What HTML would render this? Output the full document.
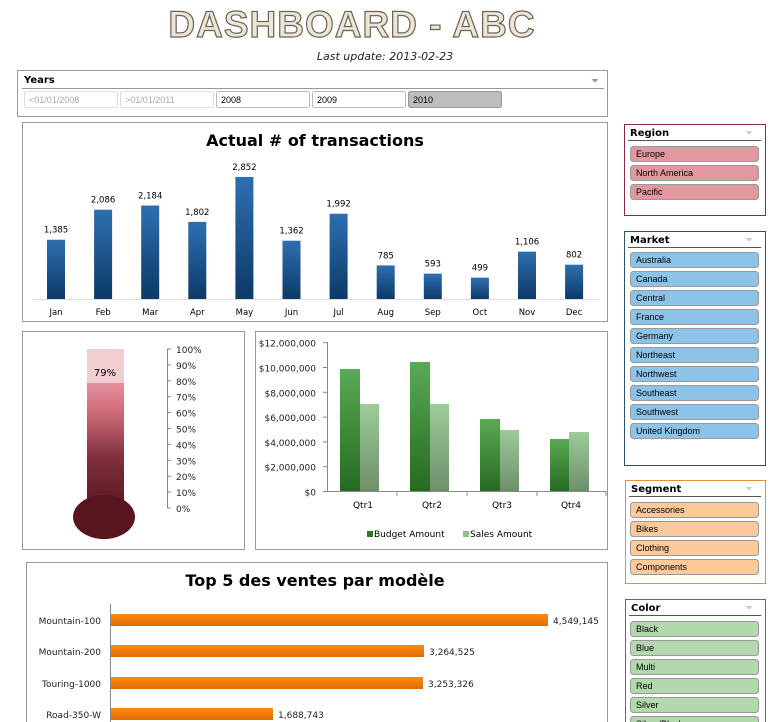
<!DOCTYPE html>
<html><head><meta charset="utf-8"><style>
html,body{margin:0;padding:0;background:#fff;width:778px;height:722px;overflow:hidden}
svg{display:block;font-family:"DejaVu Sans","Liberation Sans",sans-serif}
</style></head><body>
<svg width="778" height="722" viewBox="0 0 778 722" xmlns="http://www.w3.org/2000/svg">
<defs>
<linearGradient id="gb" x1="0" y1="0" x2="0" y2="1"><stop offset="0" stop-color="#2e6fb0"/><stop offset="1" stop-color="#0c3a68"/></linearGradient>
<linearGradient id="gg" x1="0" y1="0" x2="0" y2="1"><stop offset="0" stop-color="#5aaa55"/><stop offset="1" stop-color="#256a20"/></linearGradient>
<linearGradient id="gl" x1="0" y1="0" x2="0" y2="1"><stop offset="0" stop-color="#9ccc98"/><stop offset="1" stop-color="#6e8f6b"/></linearGradient>
<linearGradient id="gt" x1="0" y1="0" x2="0" y2="1"><stop offset="0" stop-color="#e3909c"/><stop offset="0.2" stop-color="#d67080"/><stop offset="0.6" stop-color="#80303c"/><stop offset="1" stop-color="#5a1820"/></linearGradient>
<linearGradient id="go" x1="0" y1="0" x2="0" y2="1"><stop offset="0" stop-color="#ff8a10"/><stop offset="1" stop-color="#e06a00"/></linearGradient>
</defs>
<!-- title -->
<text x="352" y="37" text-anchor="middle" font-family="Liberation Sans,sans-serif" font-weight="bold" font-size="37" letter-spacing="1" fill="#ede6d6" stroke="#6b6456" stroke-width="1.2">DASHBOARD - ABC</text>
<text x="385" y="60" text-anchor="middle" font-style="italic" font-size="11" fill="#222">Last update: 2013-02-23</text>
<!-- years -->
<rect x="17.5" y="70.5" width="590" height="46" fill="#fff" stroke="#999"/>
<text x="24" y="83" font-size="10" font-weight="bold">Years</text>
<line x1="22" y1="88.5" x2="604" y2="88.5" stroke="#999"/>
<text x="591" y="84" font-size="10" fill="#999">⏷</text>
<g font-size="9" font-family="Liberation Sans,sans-serif">
<rect x="24.5" y="91.5" width="93" height="16" rx="2" fill="#fff" stroke="#ddd"/><text x="29" y="103" fill="#aaa">&lt;01/01/2008</text>
<rect x="120.5" y="91.5" width="93" height="16" rx="2" fill="#fff" stroke="#ddd"/><text x="125" y="103" fill="#aaa">&gt;01/01/2011</text>
<rect x="216.5" y="91.5" width="93" height="16" rx="2" fill="#fff" stroke="#bbb"/><text x="221" y="103">2008</text>
<rect x="312.5" y="91.5" width="93" height="16" rx="2" fill="#fff" stroke="#bbb"/><text x="317" y="103">2009</text>
<rect x="408.5" y="91.5" width="93" height="16" rx="2" fill="#bdbdbd" stroke="#999"/><text x="413" y="103">2010</text>
</g>
<!-- chart 1 -->
<rect x="22.5" y="122.5" width="585" height="199" fill="#fff" stroke="#999"/>
<text x="315" y="146" text-anchor="middle" font-size="16" font-weight="bold">Actual # of transactions</text>
<g font-size="8.5" text-anchor="middle" fill="url(#gb)">
<g id="bars"></g>
</g>
<line x1="33" y1="299.5" x2="598" y2="299.5" stroke="#ddd"/>
<!-- thermometer -->
<rect x="22.5" y="331.5" width="222" height="218" fill="#fff" stroke="#999"/>
<rect x="87" y="349" width="37" height="34" fill="#f2cdd2"/>
<rect x="87" y="383" width="37" height="125" fill="url(#gt)"/>
<ellipse cx="104" cy="517" rx="31" ry="22" fill="#58151d"/>
<text x="105" y="376" text-anchor="middle" font-size="10">79%</text>
<line x1="167.5" y1="349" x2="167.5" y2="508" stroke="#888"/>
<g font-size="9" fill="#222" id="tax"></g>
<!-- quarter chart -->
<rect x="255.5" y="331.5" width="352" height="218" fill="#fff" stroke="#999"/>
<line x1="327.5" y1="342" x2="327.5" y2="492" stroke="#888"/>
<line x1="327" y1="491.5" x2="606" y2="491.5" stroke="#888"/>
<g id="qax" font-size="9" fill="#222"></g>
<rect x="340" y="369" width="20" height="122" fill="url(#gg)"/><rect x="360" y="404" width="19" height="87" fill="url(#gl)"/>
<rect x="410" y="362" width="20" height="129" fill="url(#gg)"/><rect x="430" y="404" width="19" height="87" fill="url(#gl)"/>
<rect x="480" y="419" width="20" height="72" fill="url(#gg)"/><rect x="500" y="430" width="19" height="61" fill="url(#gl)"/>
<rect x="550" y="439" width="19" height="52" fill="url(#gg)"/><rect x="569" y="432" width="20" height="59" fill="url(#gl)"/>
<g font-size="9" text-anchor="middle"><text x="363" y="508">Qtr1</text><text x="432" y="508">Qtr2</text><text x="502" y="508">Qtr3</text><text x="571" y="508">Qtr4</text></g>
<rect x="367" y="531" width="6" height="6" fill="#2d7a28"/><text x="374" y="537" font-size="9">Budget Amount</text>
<rect x="463" y="531" width="6" height="6" fill="#8fbf8b"/><text x="470" y="537" font-size="9">Sales Amount</text>
<!-- top 5 -->
<rect x="26.5" y="562.5" width="581" height="170" fill="#fff" stroke="#999"/>
<text x="315" y="586" text-anchor="middle" font-size="16" font-weight="bold">Top 5 des ventes par modèle</text>
<line x1="110.5" y1="604" x2="110.5" y2="722" stroke="#888"/>
<g font-size="9" fill="#222">
<rect x="111" y="614" width="437" height="12" fill="url(#go)"/><text x="101" y="624" text-anchor="end">Mountain-100</text><text x="553" y="624">4,549,145</text>
<rect x="111" y="645" width="313" height="12" fill="url(#go)"/><text x="101" y="655" text-anchor="end">Mountain-200</text><text x="429" y="655">3,264,525</text>
<rect x="111" y="677" width="312" height="12" fill="url(#go)"/><text x="101" y="687" text-anchor="end">Touring-1000</text><text x="428" y="687">3,253,326</text>
<rect x="111" y="708" width="162" height="12" fill="url(#go)"/><text x="101" y="718" text-anchor="end">Road-350-W</text><text x="278" y="718">1,688,743</text>
</g>
<g id="sl"></g>
</svg>
<script>
var NS="http://www.w3.org/2000/svg";
function el(p,t,a,txt){var e=document.createElementNS(NS,t);for(var k in a)e.setAttribute(k,a[k]);if(txt!=null)e.textContent=txt;p.appendChild(e);return e;}
var bars=document.getElementById('bars');
var m=["Jan","Feb","Mar","Apr","May","Jun","Jul","Aug","Sep","Oct","Nov","Dec"],v=[1385,2086,2184,1802,2852,1362,1992,785,593,499,1106,802];
for(var i=0;i<12;i++){var cx=56+i*47.1,h=v[i]*0.0428;
el(bars,'rect',{x:cx-9,y:299-h,width:18,height:h});
el(bars,'text',{x:cx,y:299-h-7,fill:'#000'},v[i].toLocaleString('en-US'));
el(bars,'text',{x:cx,y:315,fill:'#000'},m[i]);}
var tax=document.getElementById('tax');
for(var i=0;i<=10;i++){var y=508-i*15.9;el(tax,'line',{x1:167,y1:y,x2:171,y2:y,stroke:'#888'});el(tax,'text',{x:176,y:y+4},(i*10)+'%');}
var q=document.getElementById('qax');
for(var i=0;i<=6;i++){var y=491.5-i*24.8;el(q,'line',{x1:323,y1:y,x2:328,y2:y,stroke:'#888'});el(q,'text',{x:316,y:y+4,'text-anchor':'end'},'$'+(i*2000000).toLocaleString('en-US'));}
[397,467,537,606].forEach(function(x){el(q,'line',{x1:x,y1:491,x2:x,y2:496,stroke:'#888'});});
var sl=document.getElementById('sl');
function slicer(x,y,w,h,title,border,fill,items,y0){
el(sl,'rect',{x:x+.5,y:y+.5,width:w,height:h,fill:'#fff',stroke:border});
el(sl,'text',{x:x+6,y:y+12,'font-size':10,'font-weight':'bold'},title);
el(sl,'line',{x1:x+4,y1:y+16.5,x2:x+w-4,y2:y+16.5,stroke:'#555'});
el(sl,'text',{x:x+w-20,y:y+12,'font-size':10,fill:'#ccc'},'⏷');
items.forEach(function(t,i){var yy=y0+i*19;el(sl,'rect',{x:630.5,y:yy+.5,width:128,height:15,rx:3,fill:fill,stroke:'#999'});
el(sl,'text',{x:636,y:yy+11,'font-size':9,'font-family':'Liberation Sans,sans-serif'},t);});}
slicer(624,124,141,91,'Region','#8a2a3c','#e3979f',['Europe','North America','Pacific'],146);
slicer(624,231,141,234,'Market','#2f4f6f','#8ec3e9',['Australia','Canada','Central','France','Germany','Northeast','Northwest','Southeast','Southwest','United Kingdom'],252);
slicer(625,480,140,103,'Segment','#e8922a','#fbc99a',['Accessories','Bikes','Clothing','Components'],502);
slicer(625,599,140,140,'Color','#4f7a4f','#b3d8ad',['Black','Blue','Multi','Red','Silver','Silver/Black'],621);
</script>
</body></html>
